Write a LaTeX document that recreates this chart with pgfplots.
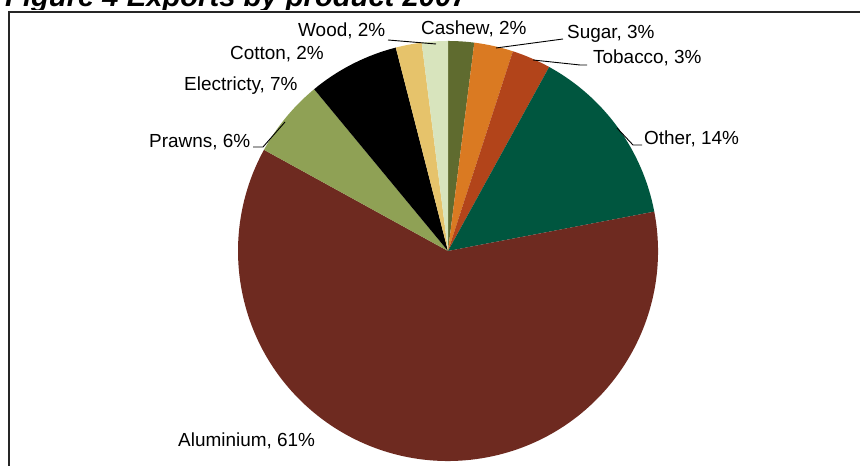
\documentclass[border=0pt]{standalone}
\usepackage{pgfplots}
\pgfplotsset{compat=1.18}
\usepackage{pgfplotstable}
\usepackage{fontspec}
\setmainfont{Liberation Sans}

\definecolor{pc0}{RGB}{95,107,47}
\definecolor{pc1}{RGB}{218,122,34}
\definecolor{pc2}{RGB}{178,68,26}
\definecolor{pc3}{RGB}{0,86,63}
\definecolor{pc4}{RGB}{110,42,32}
\definecolor{pc5}{RGB}{143,161,85}
\definecolor{pc6}{RGB}{0,0,0}
\definecolor{pc7}{RGB}{230,195,107}
\definecolor{pc8}{RGB}{216,228,189}

\pgfplotstableread[col sep=comma]{
name,value
Cashew,2
Sugar,3
Tobacco,3
Other,14
Aluminium,61
Prawns,6
Electricty,7
Cotton,2
Wood,2
}\piedata

\begin{document}
\begin{tikzpicture}[x=1bp,y=1bp]
\useasboundingbox (0,0) rectangle (860,466);
\node[anchor=base west, inner sep=0, font=\fontsize{29.3}{31}\selectfont\bfseries\itshape] at (5,459) {Figure 4 Exports by product 2007};
\fill[white] (9,-5) rectangle (870,456);
\draw[line width=1.2bp, black!85] (9,-5) -- (9,454) -- (870,454);
% cumulative angles from the data
\gdef\cum{0}
\pgfplotsforeachungrouped \i in {0,...,8}{%
  \pgfplotstablegetelem{\i}{value}\of\piedata
  \pgfmathsetmacro\aone{90-3.6*\cum}%
  \pgfmathsetmacro\newcum{\cum+\pgfplotsretval}%
  \pgfmathsetmacro\atwo{90-3.6*\newcum}%
  \expandafter\xdef\csname pieA\i\endcsname{\aone}%
  \expandafter\xdef\csname pieB\i\endcsname{\atwo}%
  \xdef\cum{\newcum}%
}
\begin{axis}[x=1bp,y=1bp,xmin=0,xmax=860,ymin=0,ymax=466,hide axis,
  anchor=origin,at={(0,0)},clip=false,scale only axis]
\pgfplotsinvokeforeach{0,...,8}{
  \fill[pc#1] (axis cs:448,215) -- ++(\csname pieA#1\endcsname:210bp)
    arc[start angle=\csname pieA#1\endcsname, end angle=\csname pieB#1\endcsname, radius=210bp] -- cycle;
}
\begin{scope}[line width=0.9bp, black]
\draw (axis cs:388,426) -- (axis cs:436,422);
\draw (axis cs:563,427) -- (axis cs:496,418);
\draw (axis cs:587,401) -- (axis cs:580,401) -- (axis cs:533,406);
\draw (axis cs:642,321) -- (axis cs:633,321) -- (axis cs:617,338);
\draw (axis cs:253,319) -- (axis cs:263,319) -- (axis cs:285,344);
\end{scope}
\begin{scope}[every node/.style={anchor=base west, inner sep=0, font=\fontsize{19}{21}\selectfont}]
\node at (axis cs:298,429) {Wood, 2\%};
\node at (axis cs:421,431) {Cashew, 2\%};
\node at (axis cs:567,427) {Sugar, 3\%};
\node at (axis cs:593,402) {Tobacco, 3\%};
\node at (axis cs:644,321) {Other, 14\%};
\node at (axis cs:230,406) {Cotton, 2\%};
\node at (axis cs:184,375) {Electricty, 7\%};
\node at (axis cs:149,318) {Prawns, 6\%};
\node at (axis cs:178,19) {Aluminium, 61\%};
\end{scope}
\end{axis}
\end{tikzpicture}
\end{document}
